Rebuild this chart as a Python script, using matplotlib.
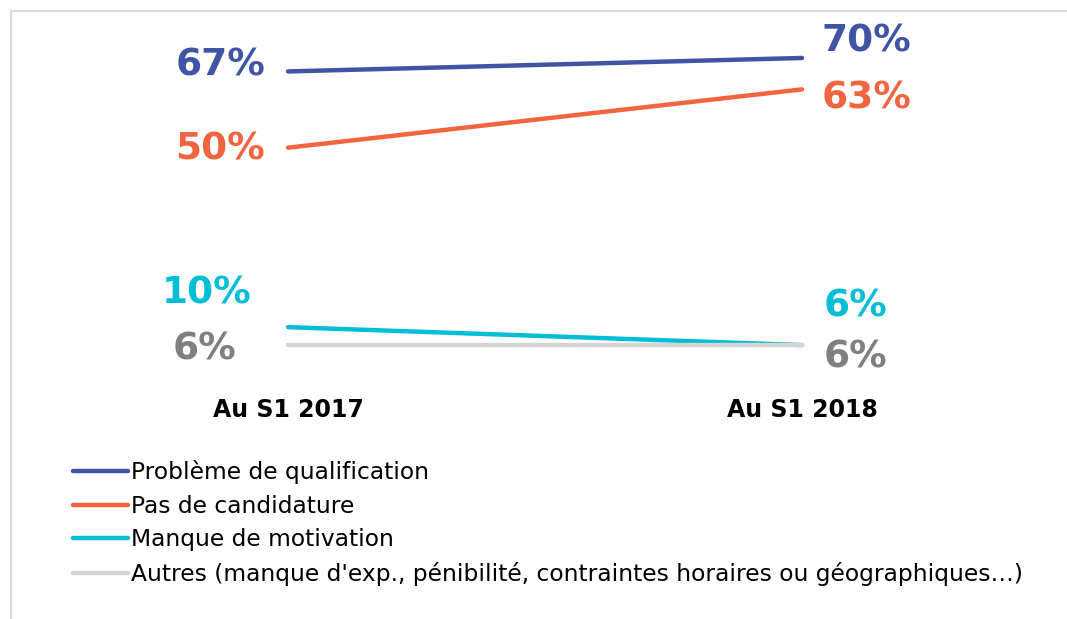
import matplotlib
matplotlib.use('Agg')
import matplotlib.pyplot as plt
from matplotlib.lines import Line2D

periods = ['Au S1 2017', 'Au S1 2018']
series = ['Problème de qualification', 'Pas de candidature', 'Manque de motivation',
          "Autres (manque d'exp., pénibilité, contraintes horaires ou géographiques…)"]
qualif = [67, 70]
candid = [50, 63]
motiv = [10, 6]
autres = [6, 6]

colors = ['#3F54A4', '#F26440', '#00BED6', '#D4D4D4']
text_colors = ['#3F54A4', '#F26440', '#00BED6', '#7F7F7F']
# label offsets in pixels (left point, right point)
offsets = [((-23, 10), (20, 20)),
           ((-23, 2), (20, -5)),
           ((-36, 38), (22, 43)),
           ((-52, 0), (22, -8))]

plt.rcParams['font.family'] = ['DejaVu Sans']

W, H = 1067, 619
fig = plt.figure(figsize=(W / 100, H / 100), dpi=100)
fig.patch.set_facecolor('white')

# axes placed so that x=0 -> px 288, x=1 -> px 802, y=0 -> px 372
ax = fig.add_axes([100 / W, 1 - 372 / H, 890 / W, 352 / H])
ax.set_xlim(-188 / 514, 702 / 514)
ax.set_ylim(0, 352 / 4.486)
ax.patch.set_alpha(0)

x = [0, 1]
for i, vals in enumerate([qualif, candid, motiv, autres]):
    ax.plot(x, vals, color=colors[i], lw=3.2, solid_capstyle='round',
            label=series[i], zorder=2 + i)
    (lo, ro) = offsets[i]
    ax.annotate(f'{vals[0]}%', (0, vals[0]), xytext=lo, textcoords='offset pixels',
                ha='right', va='center_baseline', fontsize=27, fontweight='bold',
                color=text_colors[i])
    ax.annotate(f'{vals[1]}%', (1, vals[1]), xytext=ro, textcoords='offset pixels',
                ha='left', va='center_baseline', fontsize=27, fontweight='bold',
                color=text_colors[i])

ax.set_xticks(x)
ax.set_xticklabels(periods, fontsize=17, fontweight='bold')
ax.tick_params(axis='x', length=0, pad=19)
ax.set_yticks([])
for s in ax.spines.values():
    s.set_visible(False)

leg = ax.legend(loc='upper left', bbox_to_anchor=(73 / W, 1 - 460 / H),
                bbox_transform=fig.transFigure, frameon=False, fontsize=16.8,
                handlelength=2.35, handletextpad=0.12, labelspacing=0.46,
                borderpad=0, borderaxespad=0)
for h in leg.get_lines():
    h.set_linewidth(3.2)
    h.set_solid_capstyle('round')

# light frame on top and left
fig.add_artist(Line2D([11 / W, 1], [1 - 11 / H, 1 - 11 / H], color='#D9D9D9', lw=1.5,
                      transform=fig.transFigure))
fig.add_artist(Line2D([11 / W, 11 / W], [0, 1 - 11 / H], color='#D9D9D9', lw=1.5,
                      transform=fig.transFigure))

fig.savefig('out.png', dpi=100, facecolor='white')
